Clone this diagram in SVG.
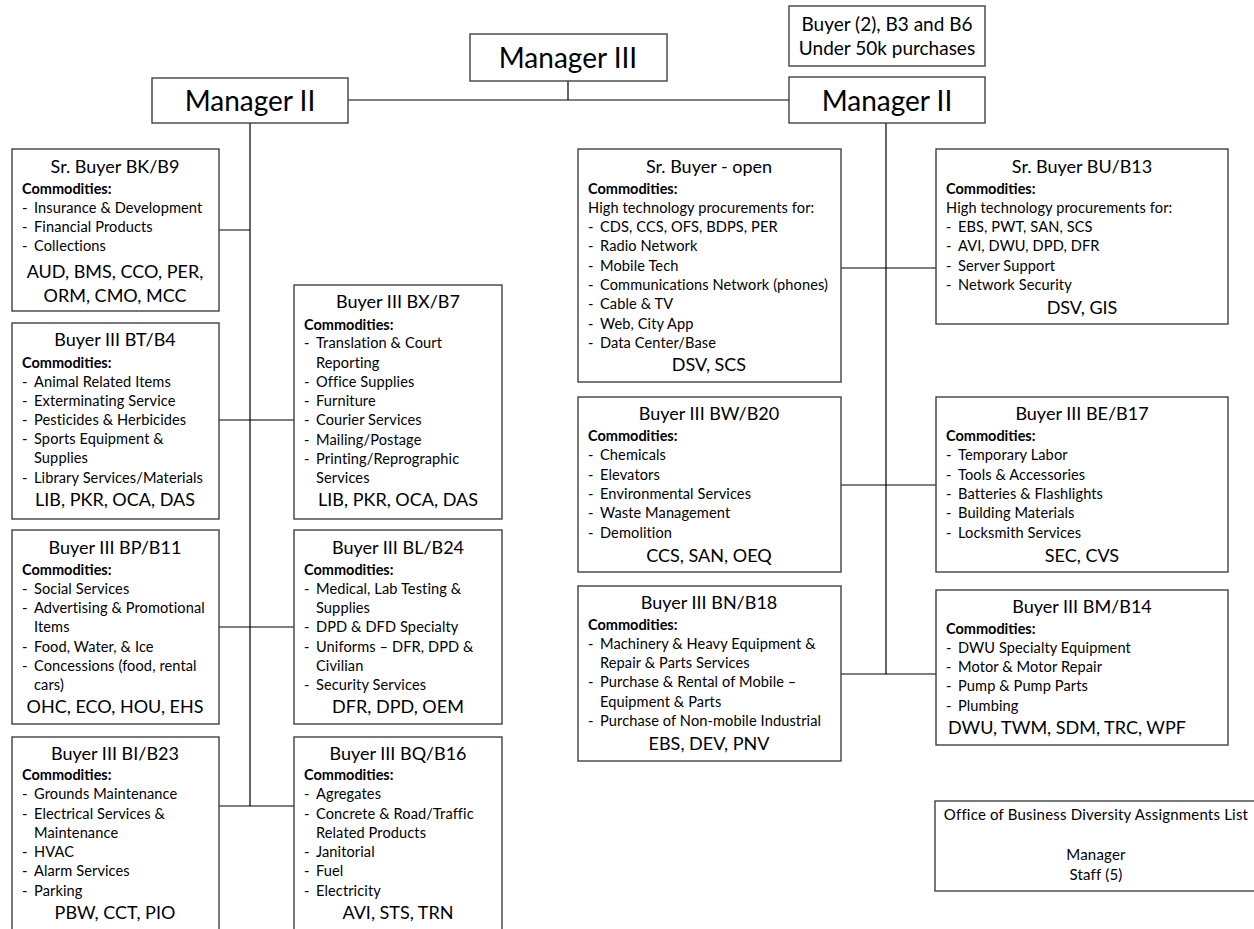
<svg xmlns="http://www.w3.org/2000/svg" width="1254" height="929" viewBox="0 0 1254 929">
<style>
.box{fill:#fff;stroke:#404040;stroke-width:1.4}
.ln{stroke:#000;stroke-width:1.2;fill:none}
text{font-family:Lato,"Open Sans","Liberation Sans",sans-serif;fill:#000}
.m{font-size:28px;text-anchor:middle}
.t{font-size:18px;text-anchor:middle}
.c{font-size:14.5px;font-weight:bold}
.i{font-size:14.6px;letter-spacing:0.1px}
.k{font-size:18px;text-anchor:middle}
.o{font-size:15px;text-anchor:middle;letter-spacing:0.2px}
</style>
<rect width="1254" height="929" fill="#fff"/>
<g id="connectors">
<path class="ln" d="M348,100H789M568,81V100M250,123V806M886,123V674"/>
<path class="ln" d="M219,230H250M219,420H294M219,627H294M219,806H294"/>
<path class="ln" d="M841,268H936M841,485H936M841,674H936"/>
</g>
<g id="manager3"><rect class="box" x="470" y="34" width="197" height="47"/><text class="m" x="568" y="68">Manager III</text></g>
<g id="manager2-left"><rect class="box" x="152" y="78" width="196" height="45"/><text class="m" x="250" y="111">Manager II</text></g>
<g id="buyer2"><rect class="box" x="789" y="6" width="196" height="60"/><text class="t" x="887" y="31" style="font-size:19px">Buyer (2), B3 and B6</text><text class="t" x="887" y="55" style="font-size:19px">Under 50k purchases</text></g>
<g id="manager2-right"><rect class="box" x="789" y="77" width="196" height="46"/><text class="m" x="887" y="111">Manager II</text></g>

<g id="bk-b9"><rect class="box" x="12" y="149" width="207" height="162"/>
<text class="t" x="115" y="173">Sr. Buyer BK/B9</text>
<text class="c" x="22" y="194">Commodities:</text>
<text class="i"><tspan x="22" y="213">-</tspan><tspan x="34">Insurance &amp; Development</tspan></text>
<text class="i"><tspan x="22" y="232">-</tspan><tspan x="34">Financial Products</tspan></text>
<text class="i"><tspan x="22" y="251">-</tspan><tspan x="34">Collections</tspan></text>
<text class="k" x="115" y="278">AUD, BMS, CCO, PER,</text>
<text class="k" x="115" y="302">ORM, CMO, MCC</text></g>

<g id="bt-b4"><rect class="box" x="12" y="323" width="207" height="196"/>
<text class="t" x="115" y="346">Buyer III BT/B4</text>
<text class="c" x="22" y="368">Commodities:</text>
<text class="i"><tspan x="22" y="387">-</tspan><tspan x="34">Animal Related Items</tspan></text>
<text class="i"><tspan x="22" y="406">-</tspan><tspan x="34">Exterminating Service</tspan></text>
<text class="i"><tspan x="22" y="425">-</tspan><tspan x="34">Pesticides &amp; Herbicides</tspan></text>
<text class="i"><tspan x="22" y="444">-</tspan><tspan x="34">Sports Equipment &amp;</tspan></text>
<text class="i" x="34" y="463">Supplies</text>
<text class="i"><tspan x="22" y="483">-</tspan><tspan x="34">Library Services/Materials</tspan></text>
<text class="k" x="115" y="506">LIB, PKR, OCA, DAS</text></g>

<g id="bp-b11"><rect class="box" x="12" y="530" width="207" height="194"/>
<text class="t" x="115" y="554">Buyer III BP/B11</text>
<text class="c" x="22" y="575">Commodities:</text>
<text class="i"><tspan x="22" y="594">-</tspan><tspan x="34">Social Services</tspan></text>
<text class="i"><tspan x="22" y="613">-</tspan><tspan x="34">Advertising &amp; Promotional</tspan></text>
<text class="i" x="34" y="632">Items</text>
<text class="i"><tspan x="22" y="652">-</tspan><tspan x="34">Food, Water, &amp; Ice</tspan></text>
<text class="i"><tspan x="22" y="671">-</tspan><tspan x="34">Concessions (food, rental</tspan></text>
<text class="i" x="34" y="690">cars)</text>
<text class="k" x="115" y="713">OHC, ECO, HOU, EHS</text></g>

<g id="bi-b23"><rect class="box" x="12" y="737" width="207" height="200"/>
<text class="t" x="115" y="760">Buyer III BI/B23</text>
<text class="c" x="22" y="780">Commodities:</text>
<text class="i"><tspan x="22" y="799">-</tspan><tspan x="34">Grounds Maintenance</tspan></text>
<text class="i"><tspan x="22" y="819">-</tspan><tspan x="34">Electrical Services &amp;</tspan></text>
<text class="i" x="34" y="838">Maintenance</text>
<text class="i"><tspan x="22" y="857">-</tspan><tspan x="34">HVAC</tspan></text>
<text class="i"><tspan x="22" y="876">-</tspan><tspan x="34">Alarm Services</tspan></text>
<text class="i"><tspan x="22" y="896">-</tspan><tspan x="34">Parking</tspan></text>
<text class="k" x="115" y="919">PBW, CCT, PIO</text></g>

<g id="bx-b7"><rect class="box" x="294" y="285" width="208" height="234"/>
<text class="t" x="398" y="308">Buyer III BX/B7</text>
<text class="c" x="304" y="330">Commodities:</text>
<text class="i"><tspan x="304" y="348">-</tspan><tspan x="316">Translation &amp; Court</tspan></text>
<text class="i" x="316" y="368">Reporting</text>
<text class="i"><tspan x="304" y="387">-</tspan><tspan x="316">Office Supplies</tspan></text>
<text class="i"><tspan x="304" y="406">-</tspan><tspan x="316">Furniture</tspan></text>
<text class="i"><tspan x="304" y="425">-</tspan><tspan x="316">Courier Services</tspan></text>
<text class="i"><tspan x="304" y="445">-</tspan><tspan x="316">Mailing/Postage</tspan></text>
<text class="i"><tspan x="304" y="464">-</tspan><tspan x="316">Printing/Reprographic</tspan></text>
<text class="i" x="316" y="483">Services</text>
<text class="k" x="398" y="506">LIB, PKR, OCA, DAS</text></g>

<g id="bl-b24"><rect class="box" x="294" y="530" width="208" height="194"/>
<text class="t" x="398" y="554">Buyer III BL/B24</text>
<text class="c" x="304" y="575">Commodities:</text>
<text class="i"><tspan x="304" y="594">-</tspan><tspan x="316">Medical, Lab Testing &amp;</tspan></text>
<text class="i" x="316" y="613">Supplies</text>
<text class="i"><tspan x="304" y="632">-</tspan><tspan x="316">DPD &amp; DFD Specialty</tspan></text>
<text class="i"><tspan x="304" y="652">-</tspan><tspan x="316">Uniforms – DFR, DPD &amp;</tspan></text>
<text class="i" x="316" y="671">Civilian</text>
<text class="i"><tspan x="304" y="690">-</tspan><tspan x="316">Security Services</tspan></text>
<text class="k" x="398" y="713">DFR, DPD, OEM</text></g>

<g id="bq-b16"><rect class="box" x="294" y="737" width="208" height="200"/>
<text class="t" x="398" y="760">Buyer III BQ/B16</text>
<text class="c" x="304" y="780">Commodities:</text>
<text class="i"><tspan x="304" y="799">-</tspan><tspan x="316">Agregates</tspan></text>
<text class="i"><tspan x="304" y="819">-</tspan><tspan x="316">Concrete &amp; Road/Traffic</tspan></text>
<text class="i" x="316" y="838">Related Products</text>
<text class="i"><tspan x="304" y="857">-</tspan><tspan x="316">Janitorial</tspan></text>
<text class="i"><tspan x="304" y="876">-</tspan><tspan x="316">Fuel</tspan></text>
<text class="i"><tspan x="304" y="896">-</tspan><tspan x="316">Electricity</tspan></text>
<text class="k" x="398" y="919">AVI, STS, TRN</text></g>

<g id="sr-open"><rect class="box" x="578" y="149" width="263" height="233"/>
<text class="t" x="709" y="173">Sr. Buyer - open</text>
<text class="c" x="588" y="194">Commodities:</text>
<text class="i" x="588" y="213">High technology procurements for:</text>
<text class="i"><tspan x="588" y="232">-</tspan><tspan x="600">CDS, CCS, OFS, BDPS, PER</tspan></text>
<text class="i"><tspan x="588" y="251">-</tspan><tspan x="600">Radio Network</tspan></text>
<text class="i"><tspan x="588" y="271">-</tspan><tspan x="600">Mobile Tech</tspan></text>
<text class="i"><tspan x="588" y="290">-</tspan><tspan x="600">Communications Network (phones)</tspan></text>
<text class="i"><tspan x="588" y="309">-</tspan><tspan x="600">Cable &amp; TV</tspan></text>
<text class="i"><tspan x="588" y="329">-</tspan><tspan x="600">Web, City App</tspan></text>
<text class="i"><tspan x="588" y="348">-</tspan><tspan x="600">Data Center/Base</tspan></text>
<text class="k" x="709" y="371">DSV, SCS</text></g>

<g id="bu-b13"><rect class="box" x="936" y="149" width="292" height="175"/>
<text class="t" x="1082" y="173">Sr. Buyer BU/B13</text>
<text class="c" x="946" y="194">Commodities:</text>
<text class="i" x="946" y="213">High technology procurements for:</text>
<text class="i"><tspan x="946" y="232">-</tspan><tspan x="958">EBS, PWT, SAN, SCS</tspan></text>
<text class="i"><tspan x="946" y="251">-</tspan><tspan x="958">AVI, DWU, DPD, DFR</tspan></text>
<text class="i"><tspan x="946" y="271">-</tspan><tspan x="958">Server Support</tspan></text>
<text class="i"><tspan x="946" y="290">-</tspan><tspan x="958">Network Security</tspan></text>
<text class="k" x="1082" y="314">DSV, GIS</text></g>

<g id="bw-b20"><rect class="box" x="578" y="397" width="263" height="175"/>
<text class="t" x="709" y="420">Buyer III BW/B20</text>
<text class="c" x="588" y="441">Commodities:</text>
<text class="i"><tspan x="588" y="460">-</tspan><tspan x="600">Chemicals</tspan></text>
<text class="i"><tspan x="588" y="480">-</tspan><tspan x="600">Elevators</tspan></text>
<text class="i"><tspan x="588" y="499">-</tspan><tspan x="600">Environmental Services</tspan></text>
<text class="i"><tspan x="588" y="518">-</tspan><tspan x="600">Waste Management</tspan></text>
<text class="i"><tspan x="588" y="538">-</tspan><tspan x="600">Demolition</tspan></text>
<text class="k" x="709" y="562">CCS, SAN, OEQ</text></g>

<g id="be-b17"><rect class="box" x="936" y="397" width="292" height="175"/>
<text class="t" x="1082" y="420">Buyer III BE/B17</text>
<text class="c" x="946" y="441">Commodities:</text>
<text class="i"><tspan x="946" y="460">-</tspan><tspan x="958">Temporary Labor</tspan></text>
<text class="i"><tspan x="946" y="480">-</tspan><tspan x="958">Tools &amp; Accessories</tspan></text>
<text class="i"><tspan x="946" y="499">-</tspan><tspan x="958">Batteries &amp; Flashlights</tspan></text>
<text class="i"><tspan x="946" y="518">-</tspan><tspan x="958">Building Materials</tspan></text>
<text class="i"><tspan x="946" y="538">-</tspan><tspan x="958">Locksmith Services</tspan></text>
<text class="k" x="1082" y="562">SEC, CVS</text></g>

<g id="bn-b18"><rect class="box" x="578" y="586" width="263" height="175"/>
<text class="t" x="709" y="609">Buyer III BN/B18</text>
<text class="c" x="588" y="630">Commodities:</text>
<text class="i"><tspan x="588" y="649">-</tspan><tspan x="600">Machinery &amp; Heavy Equipment &amp;</tspan></text>
<text class="i" x="600" y="668">Repair &amp; Parts Services</text>
<text class="i"><tspan x="588" y="687">-</tspan><tspan x="600">Purchase &amp; Rental of Mobile –</tspan></text>
<text class="i" x="600" y="707">Equipment &amp; Parts</text>
<text class="i"><tspan x="588" y="726">-</tspan><tspan x="600">Purchase of Non-mobile Industrial</tspan></text>
<text class="k" x="709" y="750">EBS, DEV, PNV</text></g>

<g id="bm-b14"><rect class="box" x="936" y="590" width="292" height="155"/>
<text class="t" x="1082" y="613">Buyer III BM/B14</text>
<text class="c" x="946" y="634">Commodities:</text>
<text class="i"><tspan x="946" y="653">-</tspan><tspan x="958">DWU Specialty Equipment</tspan></text>
<text class="i"><tspan x="946" y="672">-</tspan><tspan x="958">Motor &amp; Motor Repair</tspan></text>
<text class="i"><tspan x="946" y="691">-</tspan><tspan x="958">Pump &amp; Pump Parts</tspan></text>
<text class="i"><tspan x="946" y="711">-</tspan><tspan x="958">Plumbing</tspan></text>
<text class="k" x="1067" y="734">DWU, TWM, SDM, TRC, WPF</text></g>

<g id="obd"><rect class="box" x="935" y="801" width="330" height="90"/>
<text class="o" x="1096" y="820">Office of Business Diversity Assignments List</text>
<text class="o" x="1096" y="860">Manager</text>
<text class="o" x="1096" y="880">Staff (5)</text></g>
</svg>
